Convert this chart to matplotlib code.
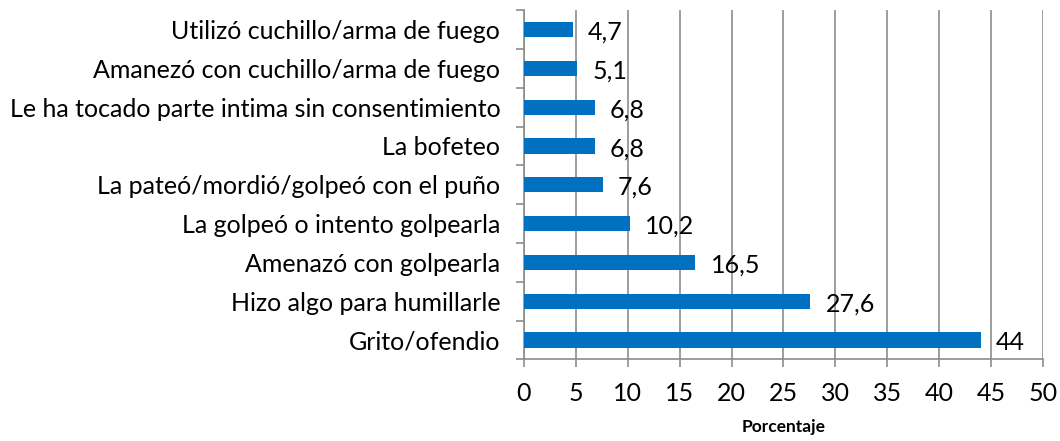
import matplotlib
matplotlib.use("Agg")
import matplotlib.pyplot as plt
from matplotlib.ticker import FixedLocator

categories = [
    "Grito/ofendio",
    "Hizo algo para humillarle",
    "Amenazó con golpearla",
    "La golpeó o intento golpearla",
    "La pateó/mordió/golpeó con el puño",
    "La bofeteo",
    "Le ha tocado parte intima sin consentimiento",
    "Amanezó con cuchillo/arma de fuego",
    "Utilizó cuchillo/arma de fuego",
]
values = [44, 27.6, 16.5, 10.2, 7.6, 6.8, 6.8, 5.1, 4.7]
x_ticks = [0, 5, 10, 15, 20, 25, 30, 35, 40, 45, 50]

plt.rcParams["font.family"] = ["Lato", "DejaVu Sans"]

fig = plt.figure(figsize=(10.6, 4.41), dpi=100)
ax = fig.add_axes([0.4943, 0.185, 0.4896, 0.792])

grid_col = "#8c8c8c"
fs = 18
ypos = list(range(len(categories)))
ax.barh(ypos, values, height=0.39, color="#0070C0", zorder=3)

for y, v in zip(ypos, values):
    lab = f"{v:g}".replace(".", ",")
    ax.annotate(lab, (v, y), xytext=(11, -2), textcoords="offset points",
                ha="left", va="center", fontsize=fs, color="black", zorder=4)

ax.set_xlim(0, 50)
ax.set_ylim(-0.5, len(categories) - 0.5)
ax.set_xticks(x_ticks)
ax.set_xticklabels([str(t) for t in x_ticks], fontsize=fs)
ax.set_yticks(ypos)
ax.set_yticklabels(categories, fontsize=fs)
ax.yaxis.set_minor_locator(FixedLocator([i - 0.5 for i in range(len(categories) + 1)]))

ax.tick_params(axis="y", which="major", length=0, pad=17)
ax.tick_params(axis="y", which="minor", length=6, color=grid_col, width=1.2)
ax.tick_params(axis="x", which="major", length=6, color=grid_col, width=1.2, pad=10)

ax.grid(axis="x", color=grid_col, linewidth=1.2, zorder=0)
for side in ["top", "right"]:
    ax.spines[side].set_visible(False)
for side in ["left", "bottom"]:
    ax.spines[side].set_color(grid_col)
    ax.spines[side].set_linewidth(1.2)

ax.set_xlabel("Porcentaje", fontsize=12.5, fontweight="bold", labelpad=10)

fig.savefig("out.png", dpi=100)
